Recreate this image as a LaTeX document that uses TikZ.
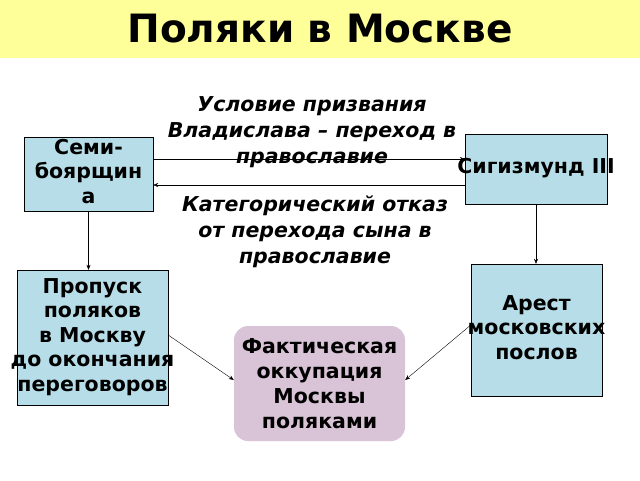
\documentclass[tikz,border=0pt]{standalone}
\usepackage{fontspec}
\setmainfont{DejaVu Sans}
\usetikzlibrary{positioning, arrows.meta}
\definecolor{titlebg}{HTML}{FFFF99}
\definecolor{boxbg}{HTML}{B7DEE8}
\definecolor{occbg}{HTML}{D9C3D6}
% text that may run over the edge of its box
\newcommand\overtext[1]{\makebox[0pt]{\begin{tabular}{@{}c@{}}#1\end{tabular}}}
\begin{document}
\begin{tikzpicture}[x=1pt,y=-1pt]
	% ----- Styles -----
	\tikzset{
		box/.style={
			rectangle, draw, fill=boxbg, inner sep=0pt,
			align=center, font=\bfseries\fontsize{20.5}{24.5}\selectfont
		},
		occbox/.style={
			rectangle, rounded corners=14pt, fill=occbg, inner sep=0pt,
			minimum width=171pt, minimum height=115pt,
			align=center, font=\bfseries\fontsize{20.5}{25}\selectfont
		},
		lbl/.style={align=center, font=\bfseries\itshape\fontsize{20.5}{26}\selectfont},
		arrow/.style={->, >={Stealth[length=5pt,width=4pt]}, thin}
	}
	\useasboundingbox (0,0) rectangle (640,480);
	% ----- Title -----
	\fill[titlebg] (0,0) rectangle (640,58);
	\node (title) at (320,29) {\bfseries\fontsize{39}{44}\selectfont Поляки в Москве};
	% ----- Nodes -----
	\node (semi)  [box, minimum width=129pt, minimum height=72pt] at (88.5,174) {\overtext{Семи-\\боярщин\\а}};
	\node (sigis) [box, minimum width=142pt, minimum height=70pt] at (536,169) {\overtext{Сигизмунд III}};
	\node (pass)  [box, minimum width=151pt, minimum height=135pt] at (92.5,337.5) {\overtext{Пропуск\\поляков\\в Москву\\до окончания\\переговоров}};
	\node (arrest)[box, minimum width=131pt, minimum height=132pt] at (536.5,330) {\overtext{Арест\\московских\\послов}};
	\node (occ)   [occbox] at (319.5,383.5) {Фактическая\\оккупация\\Москвы\\поляками};
	\node (cond)  [lbl] at (312,132) {Условие призвания\\Владислава – переход в\\православие};
	\node (refuse)[lbl] at (315,232) {Категорический отказ\\от перехода сына в\\православие};
	% ----- Arrows -----
	\draw[arrow] (semi.east |- 0,159) -- (sigis.west |- 0,159);
	\draw[arrow] (sigis.west |- 0,185) -- (semi.east |- 0,185);
	\draw[arrow] (semi.south) -- (pass.north -| semi.south);
	\draw[arrow] (sigis.south) -- (arrest.north -| sigis.south);
	\draw[arrow] (pass.east |- 0,335) -- (occ.west |- 0,380);
	\draw[arrow] (arrest.west |- 0,325) -- (occ.east |- 0,380);
\end{tikzpicture}
\end{document}
